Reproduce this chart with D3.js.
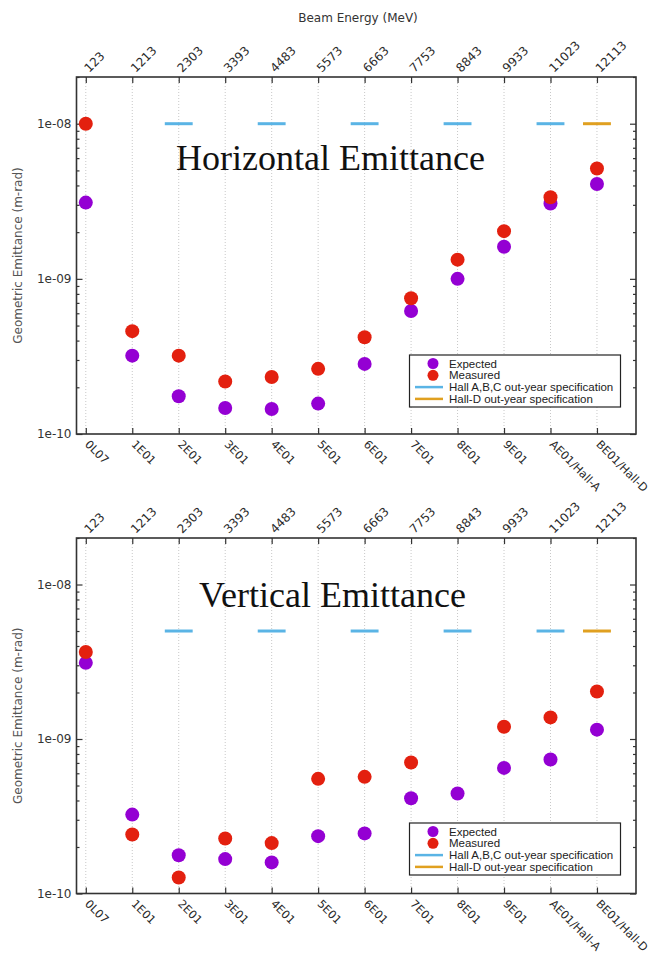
<!DOCTYPE html>
<html><head><meta charset="utf-8">
<script src="https://cdn.jsdelivr.net/npm/d3@7"></script>
<style>body{margin:0;background:#fff} svg{display:block}</style>
</head><body><svg id="c" width="665" height="954"></svg>
<script>
const stations = ["0L07","1E01","2E01","3E01","4E01","5E01","6E01","7E01","8E01","9E01","AE01/Hall-A","BE01/Hall-D"];
const energies = [123,1213,2303,3393,4483,5573,6663,7753,8843,9933,11023,12113];
const yTicks = [1e-10,1e-9,1e-8];
const yTickLabels = ["1e-10","1e-09","1e-08"];
const horizExpected = [3.1e-9,3.2e-10,1.75e-10,1.47e-10,1.45e-10,1.57e-10,2.83e-10,6.2e-10,1.0e-9,1.61e-9,3.06e-9,4.09e-9];
const horizMeasured = [1.0e-8,4.6e-10,3.2e-10,2.18e-10,2.33e-10,2.63e-10,4.2e-10,7.5e-10,1.33e-9,2.03e-9,3.36e-9,5.14e-9];
const vertExpected = [3.11e-9,3.24e-10,1.77e-10,1.67e-10,1.59e-10,2.35e-10,2.45e-10,4.14e-10,4.44e-10,6.5e-10,7.37e-10,1.15e-9];
const vertMeasured = [3.66e-9,2.41e-10,1.27e-10,2.27e-10,2.12e-10,5.52e-10,5.69e-10,7.05e-10,null,1.2e-9,1.38e-9,2.03e-9];
const horizSpecABC = [null,null,1e-8,null,1e-8,null,1e-8,null,1e-8,null,1e-8,null];
const horizSpecD = [null,null,null,null,null,null,null,null,null,null,null,1e-8];
const vertSpecABC = [null,null,5e-9,null,5e-9,null,5e-9,null,5e-9,null,5e-9,null];
const vertSpecD = [null,null,null,null,null,null,null,null,null,null,null,5e-9];
const legendLabels = ["Expected","Measured","Hall A,B,C out-year specification","Hall-D out-year specification"];
const titles = ["Horizontal Emittance","Vertical Emittance"];

const C = {exp:"#9400d3", meas:"#e3200f", abc:"#5ab4e5", d:"#e0a020"};
const svg = d3.select("#c");
const L = 76.5, R = 636;
const x = d3.scaleLinear().domain([-0.2, 11.84]).range([L, R]);

const panels = [
  {top:77, bottom:434, exp:horizExpected, meas:horizMeasured, abc:horizSpecABC, d:horizSpecD, title:titles[0], tx:330.5, ty:170, lgTop:355},
  {top:538, bottom:893.5, exp:vertExpected, meas:vertMeasured, abc:vertSpecABC, d:vertSpecD, title:titles[1], tx:332.5, ty:607, lgTop:823}
];

svg.append("text").attr("x",358).attr("y",22).attr("text-anchor","middle")
  .attr("font-family","DejaVu Sans").attr("font-size",12).attr("fill","#333").text("Beam Energy (MeV)");

panels.forEach(p => {
  const g = svg.append("g");
  const y = d3.scaleLog().domain([1e-10, 2e-8]).range([p.bottom, p.top]);
  const idx = d3.range(stations.length);

  // grid
  g.selectAll("line.grid").data(idx).join("line")
    .attr("x1",i=>x(i)).attr("x2",i=>x(i)).attr("y1",p.top).attr("y2",p.bottom)
    .attr("stroke","#c8c8c8").attr("stroke-width",1).attr("stroke-dasharray","1,2");

  // y axes major/minor
  const minors = [];
  [1e-10,1e-9,1e-8].forEach(b => { for (let k=2;k<=9;k++){ const v=b*k; if (v<=2e-8) minors.push(v);} });
  const yl = d3.axisLeft(y).tickValues(yTicks).tickFormat((d,i)=>yTickLabels[i]).tickSize(-6).tickPadding(5);
  const ylm = d3.axisLeft(y).tickValues(minors).tickFormat("").tickSize(-3);
  const yr = d3.axisRight(y).tickValues(yTicks).tickFormat("").tickSize(-6);
  const yrm = d3.axisRight(y).tickValues(minors).tickFormat("").tickSize(-3);
  const ga = g.append("g").attr("transform",`translate(${L},0)`).call(yl);
  g.append("g").attr("transform",`translate(${L},0)`).call(ylm);
  g.append("g").attr("transform",`translate(${R},0)`).call(yr);
  g.append("g").attr("transform",`translate(${R},0)`).call(yrm);
  ga.selectAll("text").attr("font-family","DejaVu Sans").attr("font-size",12).attr("fill","#333");

  // x axes
  const xb = d3.axisBottom(x).tickValues(idx).tickFormat(i=>stations[i]).tickSize(-6);
  const xt = d3.axisTop(x).tickValues(idx).tickFormat(i=>energies[i]).tickSize(-6);
  const gb = g.append("g").attr("transform",`translate(0,${p.bottom})`).call(xb);
  const gt = g.append("g").attr("transform",`translate(0,${p.top})`).call(xt);
  gb.selectAll("text").attr("font-family","DejaVu Sans").attr("font-size",11.3).attr("fill","#2a2a2a")
    .attr("text-anchor","start").attr("y",null).attr("dy",null)
    .attr("transform","translate(-2,11) rotate(45)");
  gt.selectAll("text").attr("font-family","DejaVu Sans").attr("font-size",12).attr("fill","#2a2a2a")
    .attr("text-anchor","start").attr("y",null).attr("dy",null)
    .attr("transform","translate(3,-4) rotate(-45)");
  svg.selectAll(".domain").attr("stroke","none");
  g.selectAll(".tick line").attr("stroke","#333").attr("stroke-width",1.2);

  // frame
  g.append("rect").attr("x",L).attr("y",p.top).attr("width",R-L).attr("height",p.bottom-p.top)
    .attr("fill","none").attr("stroke","#333").attr("stroke-width",1.6);

  // y label
  g.append("text").attr("transform",`translate(22,${(p.top+p.bottom)/2}) rotate(-90)`)
    .attr("text-anchor","middle").attr("font-family","DejaVu Sans").attr("font-size",12)
    .attr("fill","#555").text("Geometric Emittance (m-rad)");

  // title
  g.append("text").attr("x",p.tx).attr("y",p.ty).attr("text-anchor","middle")
    .attr("font-family","Liberation Serif").attr("font-size",36).attr("fill","#111").text(p.title);

  // spec lines
  const spec = (arr,col) => g.selectAll(null).data(idx.filter(i=>arr[i]!=null)).join("line")
    .attr("x1",i=>x(i-0.3)).attr("x2",i=>x(i+0.3)).attr("y1",i=>y(arr[i])).attr("y2",i=>y(arr[i]))
    .attr("stroke",col).attr("stroke-width",3);
  spec(p.abc,C.abc); spec(p.d,C.d);

  // points
  const pts = (arr,col) => g.selectAll(null).data(idx.filter(i=>arr[i]!=null)).join("circle")
    .attr("cx",i=>x(i)).attr("cy",i=>y(arr[i])).attr("r",7).attr("fill",col);
  pts(p.exp,C.exp); pts(p.meas,C.meas);

  // legend
  const lg = g.append("g");
  lg.append("rect").attr("x",409.5).attr("y",p.lgTop).attr("width",211).attr("height",52)
    .attr("fill","#fff").attr("stroke","#222").attr("stroke-width",1.2);
  legendLabels.forEach((t,k) => {
    const yy = p.lgTop + 8.5 + 11.8*k;
    if (k<2) lg.append("circle").attr("cx",433).attr("cy",yy).attr("r",5.5).attr("fill",k==0?C.exp:C.meas);
    else lg.append("line").attr("x1",415).attr("x2",443).attr("y1",yy).attr("y2",yy)
      .attr("stroke",k==2?C.abc:C.d).attr("stroke-width",2.5);
    lg.append("text").attr("x",449).attr("y",yy).attr("dy","0.35em")
      .attr("font-family","Liberation Sans").attr("font-size",11.5).attr("fill","#222").text(t);
  });
});
</script></body></html>
